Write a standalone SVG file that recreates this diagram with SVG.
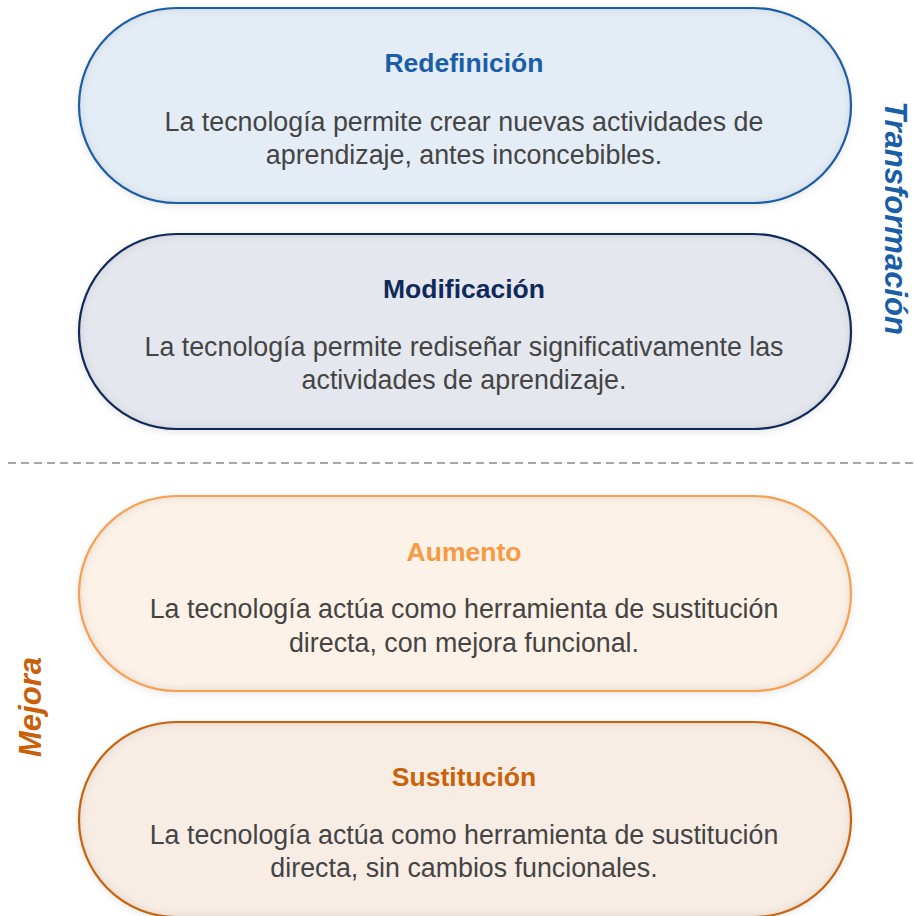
<svg xmlns="http://www.w3.org/2000/svg" width="914" height="916" viewBox="0 0 914 916">
<defs>
<filter id="drop" x="-5%" y="-10%" width="110%" height="125%">
<feGaussianBlur in="SourceAlpha" stdDeviation="4"/>
<feOffset dy="2" result="b"/>
<feFlood flood-color="#000" flood-opacity="0.12"/>
<feComposite in2="b" operator="in" result="s"/>
<feMerge><feMergeNode in="s"/><feMergeNode in="SourceGraphic"/></feMerge>
</filter>
<filter id="inset" x="-5%" y="-10%" width="110%" height="120%">
<feGaussianBlur in="SourceAlpha" stdDeviation="5" result="blur"/>
<feComposite in="SourceAlpha" in2="blur" operator="arithmetic" k2="1" k3="-1" result="edge"/>
<feFlood flood-color="#5a4030" flood-opacity="0.32"/>
<feComposite in2="edge" operator="in" result="glow"/>
<feMerge><feMergeNode in="SourceGraphic"/><feMergeNode in="glow"/></feMerge>
</filter>
<style>
.t{font-family:"Liberation Sans",Arial,sans-serif;font-weight:bold;font-size:26.5px;text-anchor:middle}
.d{font-family:"Liberation Sans",Arial,sans-serif;font-size:26.8px;fill:#444;text-anchor:middle}
.side{font-family:"Liberation Sans",Arial,sans-serif;font-weight:bold;font-style:italic;font-size:31px;text-anchor:middle}
.edge{fill:none;stroke-width:2.2}
</style>
</defs>
<g id="connectors">
<line x1="8" y1="463" x2="914" y2="463" stroke="#aaa6a4" stroke-width="2.2" stroke-dasharray="8,5"/>
</g>
<g id="redefinicion">
<g filter="url(#drop)"><rect x="79" y="8" width="772" height="195" rx="97.5" fill="#e4edf6" filter="url(#inset)"/></g>
<rect class="edge" x="79" y="8" width="772" height="195" rx="97.5" stroke="#1a5ea8"/>
<text class="t" x="464" y="72" fill="#1a5ea8">Redefinición</text>
<text class="d" x="464" y="131">La tecnología permite crear nuevas actividades de</text>
<text class="d" x="464" y="164">aprendizaje, antes inconcebibles.</text>
</g>
<g id="modificacion">
<g filter="url(#drop)"><rect x="79" y="234" width="772" height="195" rx="97.5" fill="#e4e8ee" filter="url(#inset)"/></g>
<rect class="edge" x="79" y="234" width="772" height="195" rx="97.5" stroke="#0f2a5a"/>
<text class="t" x="464" y="298" fill="#0f2a5a">Modificación</text>
<text class="d" x="464" y="356">La tecnología permite rediseñar significativamente las</text>
<text class="d" x="464" y="389">actividades de aprendizaje.</text>
</g>
<g id="aumento">
<g filter="url(#drop)"><rect x="79" y="496" width="772" height="195" rx="97.5" fill="#fdf2e7" filter="url(#inset)"/></g>
<rect class="edge" x="79" y="496" width="772" height="195" rx="97.5" stroke="#f7a050"/>
<text class="t" x="464" y="561" fill="#f79a45">Aumento</text>
<text class="d" x="464" y="618">La tecnología actúa como herramienta de sustitución</text>
<text class="d" x="464" y="652">directa, con mejora funcional.</text>
</g>
<g id="sustitucion">
<g filter="url(#drop)"><rect x="79" y="722" width="772" height="195" rx="97.5" fill="#f8ede4" filter="url(#inset)"/></g>
<rect class="edge" x="79" y="722" width="772" height="195" rx="97.5" stroke="#c9620a"/>
<text class="t" x="464" y="786" fill="#c9620a">Sustitución</text>
<text class="d" x="464" y="844">La tecnología actúa como herramienta de sustitución</text>
<text class="d" x="464" y="877">directa, sin cambios funcionales.</text>
</g>
<g id="label-transformacion">
<text class="side" transform="translate(885,218) rotate(90)" fill="#1a5ea8">Transformación</text>
</g>
<g id="label-mejora">
<text class="side" transform="translate(41,707) rotate(-90)" fill="#c8600a">Mejora</text>
</g>
</svg>
